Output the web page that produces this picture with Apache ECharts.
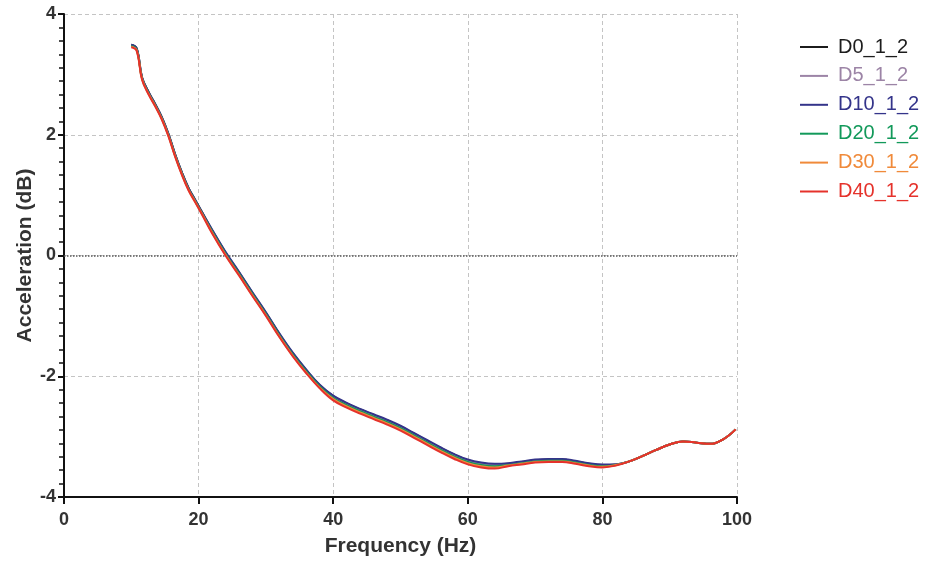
<!DOCTYPE html>
<html>
<head>
<meta charset="utf-8">
<title>Acceleration vs Frequency</title>
<script src="https://cdn.jsdelivr.net/npm/echarts@6/dist/echarts.min.js"></script>
<style>
  html, body { margin: 0; padding: 0; background: #ffffff; }
  #chart { width: 939px; height: 562px; }
</style>
</head>
<body>
<div id="chart"></div>
<script>
// Frequency samples (Hz)
const freq = [10, 10.8, 11.6, 12.6, 13.5, 14.5, 15.5, 16.5, 17.5, 18.5, 19.5, 20.5, 22, 24, 26, 28, 30, 32, 34, 36, 38, 40, 42, 44, 46, 48, 50, 52, 54, 56, 58, 60, 62, 64, 66, 68, 70, 72, 74, 76, 78, 80, 82, 84, 86, 88, 90, 92, 94, 96, 98, 99.8];

// Acceleration (dB) for each configuration
const D0_1_2 = [3.49, 3.43, 2.95, 2.70, 2.52, 2.30, 2.02, 1.68, 1.38, 1.12, 0.92, 0.72, 0.42, 0.05, -0.28, -0.62, -0.95, -1.30, -1.62, -1.90, -2.15, -2.33, -2.45, -2.55, -2.64, -2.73, -2.83, -2.95, -3.07, -3.19, -3.30, -3.39, -3.44, -3.46, -3.45, -3.42, -3.39, -3.38, -3.38, -3.41, -3.45, -3.47, -3.46, -3.41, -3.32, -3.22, -3.13, -3.08, -3.10, -3.12, -3.04, -2.88];
const D5_1_2 = [3.48, 3.42, 2.94, 2.69, 2.51, 2.29, 2.01, 1.67, 1.37, 1.11, 0.91, 0.71, 0.41, 0.04, -0.29, -0.63, -0.96, -1.31, -1.63, -1.91, -2.16, -2.34, -2.46, -2.56, -2.65, -2.74, -2.84, -2.96, -3.08, -3.20, -3.31, -3.40, -3.45, -3.47, -3.46, -3.43, -3.40, -3.39, -3.39, -3.42, -3.46, -3.48, -3.46, -3.41, -3.32, -3.22, -3.13, -3.08, -3.10, -3.12, -3.04, -2.88];
const D10_1_2 = [3.49, 3.43, 2.95, 2.70, 2.52, 2.30, 2.02, 1.68, 1.38, 1.12, 0.92, 0.72, 0.43, 0.06, -0.27, -0.61, -0.94, -1.29, -1.61, -1.89, -2.14, -2.32, -2.44, -2.54, -2.63, -2.72, -2.82, -2.94, -3.06, -3.18, -3.29, -3.38, -3.43, -3.45, -3.44, -3.41, -3.38, -3.37, -3.37, -3.40, -3.44, -3.46, -3.46, -3.41, -3.32, -3.22, -3.13, -3.08, -3.10, -3.12, -3.04, -2.88];
const D20_1_2 = [3.47, 3.41, 2.93, 2.68, 2.50, 2.28, 2.00, 1.66, 1.36, 1.10, 0.90, 0.70, 0.40, 0.03, -0.30, -0.64, -0.97, -1.32, -1.64, -1.92, -2.17, -2.36, -2.48, -2.58, -2.67, -2.76, -2.86, -2.98, -3.10, -3.22, -3.33, -3.42, -3.47, -3.49, -3.47, -3.44, -3.41, -3.40, -3.40, -3.43, -3.47, -3.49, -3.47, -3.41, -3.32, -3.22, -3.13, -3.08, -3.10, -3.12, -3.04, -2.88];
const D30_1_2 = [3.46, 3.40, 2.92, 2.67, 2.49, 2.27, 1.99, 1.65, 1.35, 1.09, 0.89, 0.69, 0.38, 0.01, -0.32, -0.66, -0.99, -1.34, -1.66, -1.94, -2.19, -2.38, -2.50, -2.60, -2.69, -2.78, -2.88, -3.00, -3.12, -3.24, -3.35, -3.44, -3.49, -3.51, -3.48, -3.45, -3.42, -3.41, -3.41, -3.44, -3.48, -3.50, -3.47, -3.41, -3.32, -3.22, -3.13, -3.08, -3.10, -3.12, -3.04, -2.88];
const D40_1_2 = [3.45, 3.39, 2.91, 2.66, 2.48, 2.26, 1.98, 1.64, 1.34, 1.08, 0.88, 0.68, 0.37, 0.00, -0.33, -0.67, -1.00, -1.35, -1.67, -1.95, -2.20, -2.40, -2.52, -2.62, -2.71, -2.80, -2.90, -3.02, -3.14, -3.26, -3.37, -3.46, -3.51, -3.53, -3.49, -3.46, -3.43, -3.42, -3.42, -3.45, -3.49, -3.51, -3.48, -3.41, -3.32, -3.22, -3.13, -3.08, -3.10, -3.12, -3.04, -2.88];

const seriesNames = ['D0_1_2', 'D5_1_2', 'D10_1_2', 'D20_1_2', 'D30_1_2', 'D40_1_2'];
const seriesValues = [D0_1_2, D5_1_2, D10_1_2, D20_1_2, D30_1_2, D40_1_2];
const seriesColors = ['#1c1c1c', '#9c84a6', '#34348a', '#12995a', '#f08a3a', '#e5322b'];

// Axis ticks
const xTicks = [0, 20, 40, 60, 80, 100];
const yTicks = [-4, -2, 0, 2, 4];

const font = 'Liberation Sans, Arial, Helvetica, sans-serif';

const chart = echarts.init(document.getElementById('chart'), null, { renderer: 'canvas' });

const series = seriesNames.map((name, i) => {
  const s = {
    name: name,
    type: 'line',
    data: freq.map((f, k) => [f, seriesValues[i][k]]),
    showSymbol: false,
    smooth: 0.4,
    lineStyle: { width: 2, color: seriesColors[i] },
    itemStyle: { color: seriesColors[i] },
    z: 3 + i
  };
  if (i === 0) {
    // dotted reference line at 0 dB
    s.markLine = {
      silent: true,
      symbol: ['none', 'none'],
      label: { show: false },
      lineStyle: { type: 'dotted', color: '#555555', width: 1.5 },
      data: [{ yAxis: 0 }],
      z: 1
    };
  }
  return s;
});

const option = {
  backgroundColor: '#ffffff',
  animation: false,
  grid: { left: 64, right: 202, top: 14, bottom: 65, containLabel: false, outerBoundsMode: 'none' },
  legend: {
    orient: 'vertical',
    left: 795,
    top: 32,
    itemWidth: 28,
    itemHeight: 2,
    itemGap: 8.9,
    icon: 'rect',
    data: seriesNames.map((n, i) => ({
      name: n,
      icon: 'rect',
      textStyle: { color: seriesColors[i] }
    })),
    textStyle: { fontFamily: font, fontSize: 20, padding: [0, 0, 0, 5] },
    selectedMode: false
  },
  xAxis: {
    type: 'value',
    min: 0,
    max: 100,
    interval: 20,
    name: 'Frequency (Hz)',
    nameLocation: 'middle',
    nameGap: 39,
    nameMoveOverlap: false,
    nameTextStyle: { fontFamily: font, fontSize: 21, fontWeight: 'bold', color: '#333333' },
    axisLine: { show: true, onZero: false, lineStyle: { color: '#111111', width: 2 } },
    axisTick: { show: true, length: 7, lineStyle: { color: '#111111', width: 2 } },
    axisLabel: {
      fontFamily: font, fontSize: 18, fontWeight: 'bold', color: '#333333', margin: 14,
      formatter: v => (xTicks.indexOf(v) >= 0 ? String(v) : '')
    },
    splitLine: { show: true, lineStyle: { type: [4, 3], color: '#c4c4c4', width: 1 } }
  },
  yAxis: {
    type: 'value',
    min: -4,
    max: 4,
    interval: 2,
    name: 'Acceleration (dB)',
    nameLocation: 'middle',
    nameRotate: 90,
    nameGap: 28,
    nameMoveOverlap: false,
    nameTextStyle: { fontFamily: font, fontSize: 21, fontWeight: 'bold', color: '#333333' },
    axisLine: { show: true, onZero: false, lineStyle: { color: '#111111', width: 2 } },
    axisTick: { show: true, length: 6, lineStyle: { color: '#111111', width: 2 } },
    minorTick: { show: true, splitNumber: 9, length: 5, lineStyle: { color: '#111111', width: 1.5 } },
    axisLabel: {
      fontFamily: font, fontSize: 18, fontWeight: 'bold', color: '#333333', margin: 8,
      formatter: v => (yTicks.indexOf(v) >= 0 ? String(v) : '')
    },
    splitLine: { show: true, lineStyle: { type: [4, 3], color: '#c4c4c4', width: 1 } }
  },
  series: series
};

chart.setOption(option);
</script>
</body>
</html>
